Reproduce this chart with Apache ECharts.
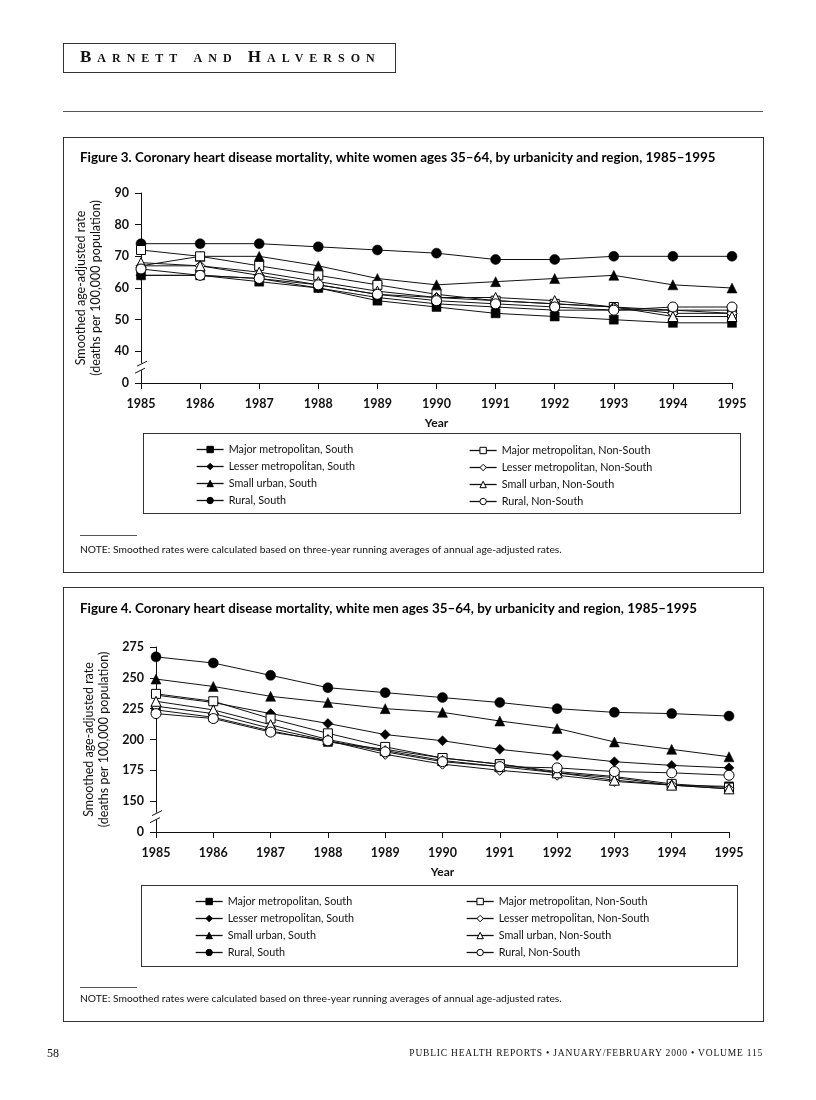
<!DOCTYPE html>
<html>
<head>
<meta charset="utf-8">
<script src="https://cdn.jsdelivr.net/npm/echarts@6/dist/echarts.min.js"></script>
<style>
  html, body { margin:0; padding:0; background:#fff; }
  #page { position:relative; width:816px; height:1100px; overflow:hidden; }
  #chart { position:absolute; left:0; top:0; width:816px; height:1100px; }
  .ov { position:absolute; pointer-events:none; white-space:nowrap; }
  .box { border:1px solid #333; box-sizing:border-box; }
  .serif { font-family:"Liberation Serif","DejaVu Serif",serif; color:#111; }
  .sans { font-family:Lato,"Open Sans",sans-serif; color:#111; }
</style>
</head>
<body>
<div id="page">
  <div id="chart"></div>
  <div class="ov box" style="left:63px;top:43px;width:333px;height:30px;"></div>
  <div class="ov serif" style="left:80px;top:47px;font-size:17px;font-variant:small-caps;letter-spacing:6px;font-weight:bold;">Barnett and Halverson</div>
  <div class="ov" style="left:63px;top:111px;width:700px;height:1px;background:#555;"></div>

  <div class="ov box" style="left:63px;top:137px;width:701px;height:436px;"></div>
  <div class="ov box" style="left:143px;top:433px;width:598px;height:81px;"></div>
  <div class="ov" style="left:80px;top:535px;width:57px;height:1px;background:#555;"></div>
  <div class="ov sans" style="left:80px;top:543px;font-size:10.3px;">NOTE: Smoothed rates were calculated based on three-year running averages of annual age-adjusted rates.</div>

  <div class="ov box" style="left:63px;top:587px;width:701px;height:435px;"></div>
  <div class="ov box" style="left:141px;top:885px;width:597px;height:82px;"></div>
  <div class="ov" style="left:80px;top:987px;width:57px;height:1px;background:#555;"></div>
  <div class="ov sans" style="left:80px;top:992px;font-size:10.3px;">NOTE: Smoothed rates were calculated based on three-year running averages of annual age-adjusted rates.</div>

  <div class="ov serif" style="left:47px;top:1046px;font-size:12px;">58</div>
  <div class="ov serif" style="right:53px;top:1048px;font-size:9.5px;letter-spacing:0.8px;">PUBLIC HEALTH REPORTS • JANUARY/FEBRUARY 2000 • VOLUME 115</div>
</div>
<script>
// ---------- data ----------
const years = ['1985','1986','1987','1988','1989','1990','1991','1992','1993','1994','1995'];
const seriesNames = [
  'Major metropolitan, South', 'Lesser metropolitan, South', 'Small urban, South', 'Rural, South',
  'Major metropolitan, Non-South', 'Lesser metropolitan, Non-South', 'Small urban, Non-South', 'Rural, Non-South'
];

// Figure 3: white women ages 35-64
const womenMajorSouth     = [64, 64, 62, 60, 56, 54, 52, 51, 50, 49, 49];
const womenLesserSouth    = [64, 64, 63, 60, 57, 55, 54, 53, 53, 53, 53];
const womenSmallSouth     = [67, 70, 70, 67, 63, 61, 62, 63, 64, 61, 60];
const womenRuralSouth     = [74, 74, 74, 73, 72, 71, 69, 69, 70, 70, 70];
const womenMajorNonSouth  = [72, 70, 67, 64, 61, 58, 56, 55, 54, 53, 52];
const womenLesserNonSouth = [67, 67, 64, 61, 58, 57, 56, 55, 54, 52, 52];
const womenSmallNonSouth  = [68, 67, 65, 62, 59, 57, 57, 56, 54, 51, 51];
const womenRuralNonSouth  = [66, 64, 63, 61, 58, 56, 55, 54, 53, 54, 54];

// Figure 4: white men ages 35-64
const menMajorSouth     = [224, 218, 207, 198, 192, 185, 180, 173, 169, 163, 162];
const menLesserSouth    = [236, 230, 221, 213, 204, 199, 192, 187, 182, 179, 177];
const menSmallSouth     = [249, 243, 235, 230, 225, 222, 215, 209, 198, 192, 186];
const menRuralSouth     = [267, 262, 252, 242, 238, 234, 230, 225, 222, 221, 219];
const menMajorNonSouth  = [237, 231, 217, 205, 194, 185, 180, 174, 170, 164, 161];
const menLesserNonSouth = [227, 221, 209, 199, 188, 180, 175, 171, 166, 163, 160];
const menSmallNonSouth  = [231, 224, 212, 200, 191, 183, 178, 173, 167, 163, 160];
const menRuralNonSouth  = [221, 217, 206, 199, 190, 182, 178, 177, 174, 173, 171];

const womenTicks = [0, 40, 50, 60, 70, 80, 90];
const menTicks = [0, 150, 175, 200, 225, 250, 275];

const fig3Title = 'Figure 3. Coronary heart disease mortality, white women ages 35–64, by urbanicity and region, 1985–1995';
const fig4Title = 'Figure 4. Coronary heart disease mortality, white men ages 35–64, by urbanicity and region, 1985–1995';
const yName = 'Smoothed age-adjusted rate\n(deaths per 100,000 population)';

// ---------- styling ----------
const FONT = 'Lato, "Open Sans", sans-serif';
const symbols = ['rect','diamond','triangle','circle','rect','diamond','triangle','circle'];
const sizes = [9, 10, 10, 10, 9, 10, 10, 10];
const filled = [true,true,true,true,false,false,false,false];

function mkSeries(data, axisIdx) {
  return data.map((d, i) => ({
    name: seriesNames[i],
    type: 'line',
    xAxisIndex: axisIdx, yAxisIndex: axisIdx,
    data: d,
    symbol: symbols[i],
    symbolSize: sizes[i],
    showAllSymbol: true,
    lineStyle: { color: '#111', width: 1 },
    itemStyle: { color: filled[i] ? '#000' : '#fff', borderColor: '#000', borderWidth: filled[i] ? 0.5 : 1 },
    emphasis: { disabled: true },
    animation: false,
    z: filled[i] ? 3 : 4
  }));
}

const womenData = [womenMajorSouth, womenLesserSouth, womenSmallSouth, womenRuralSouth,
  womenMajorNonSouth, womenLesserNonSouth, womenSmallNonSouth, womenRuralNonSouth];
const menData = [menMajorSouth, menLesserSouth, menSmallSouth, menRuralSouth,
  menMajorNonSouth, menLesserNonSouth, menSmallNonSouth, menRuralNonSouth];

function xAxisDef(idx) {
  return {
    type: 'category', gridIndex: idx, data: years, boundaryGap: false,
    name: 'Year', nameLocation: 'middle', nameGap: 34,
    nameTextStyle: { fontFamily: FONT, fontSize: 12, fontWeight: 'bold', color: '#111' },
    axisLine: { lineStyle: { color: '#111', width: 1 } },
    axisTick: { alignWithLabel: true, length: 6, lineStyle: { color: '#111' } },
    axisLabel: { fontFamily: FONT, fontSize: 12.5, fontWeight: 'bold', color: '#111', margin: 14 },
    splitLine: { show: false }
  };
}
function yAxisDef(idx, min, max, interval, gap) {
  const ticks = idx === 0 ? womenTicks : menTicks;
  return {
    type: 'value', gridIndex: idx, min: min, max: max, interval: interval,
    name: yName, nameLocation: 'middle', nameRotate: 90, nameGap: gap,
    nameTextStyle: { fontFamily: FONT, fontSize: 12.5, color: '#111', lineHeight: 15, align: 'center' },
    axisLine: { show: true, lineStyle: { color: '#111', width: 1 } },
    axisTick: { show: true, length: 6, lineStyle: { color: '#111' } },
    axisLabel: { fontFamily: FONT, fontSize: 12.5, fontWeight: 'bold', color: '#111', margin: 12,
      formatter: v => (v === min ? String(ticks[0]) : String(v)) },
    splitLine: { show: false }
  };
}
function legendDef(top, left, names) {
  return {
    orient: 'vertical', top: top, left: left, data: names, padding: 0,
    itemWidth: 27, itemHeight: 8, itemGap: 4,
    itemStyle: { borderWidth: 1 },
    lineStyle: { width: 1.3 },
    selectedMode: false,
    textStyle: { fontFamily: FONT, fontSize: 10.8, color: '#111', lineHeight: 13 }
  };
}

const chart = echarts.init(document.getElementById('chart'), null, { renderer: 'canvas' });
chart.setOption({
  backgroundColor: 'transparent',
  animation: false,
  title: [
    { text: fig3Title, left: 80, top: 151, padding: 0, textStyle: { fontFamily: FONT, fontSize: 13.4, fontWeight: 'bold', color: '#000' } },
    { text: fig4Title, left: 80, top: 602, padding: 0, textStyle: { fontFamily: FONT, fontSize: 13.4, fontWeight: 'bold', color: '#000' } }
  ],
  grid: [
    { left: 141, top: 193, width: 591, height: 190, containLabel: false },
    { left: 156, top: 647, width: 573, height: 185, containLabel: false }
  ],
  xAxis: [xAxisDef(0), xAxisDef(1)],
  yAxis: [yAxisDef(0, 30, 90, 10, 25), yAxisDef(1, 125, 275, 25, 36)],
  legend: [
    legendDef(443, 196, seriesNames.slice(0, 4)),
    legendDef(444, 469, seriesNames.slice(4)),
    legendDef(895, 195, seriesNames.slice(0, 4)),
    legendDef(895, 466, seriesNames.slice(4))
  ],
  series: mkSeries(womenData, 0).concat(mkSeries(menData, 1))
});

// axis break marks ("//") placed via the axis scales
function breakMark(axisIdx, vMid) {
  const p = chart.convertToPixel({ xAxisIndex: axisIdx, yAxisIndex: axisIdx }, [0, vMid]);
  const x = p[0], y = p[1];
  return [
    { type: 'rect', shape: { x: x - 3, y: y - 4, width: 6, height: 7 }, style: { fill: '#fff' }, z: 100 },
    { type: 'line', shape: { x1: x - 4, y1: y - 1, x2: x + 6, y2: y - 6 }, style: { stroke: '#111', lineWidth: 1 }, z: 101 },
    { type: 'line', shape: { x1: x - 6, y1: y + 6, x2: x + 4, y2: y + 1 }, style: { stroke: '#111', lineWidth: 1 }, z: 101 }
  ];
}
chart.setOption({ graphic: breakMark(0, 35).concat(breakMark(1, 137.5)) });
</script>
</body>
</html>
